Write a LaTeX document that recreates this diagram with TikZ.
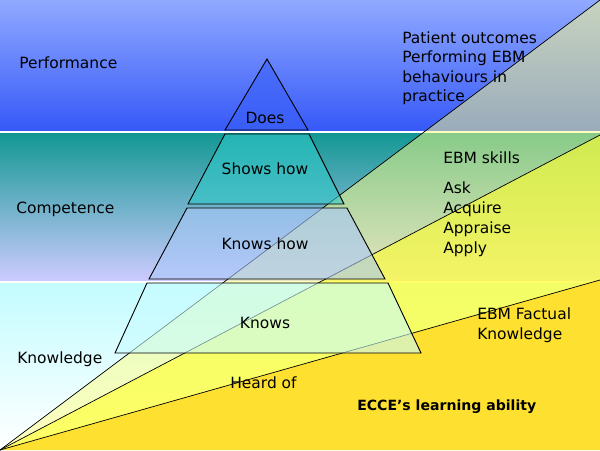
\documentclass[tikz,border=0pt]{standalone}
\usepackage{fontspec}
\setmainfont{DejaVu Sans}
\definecolor{perftop}{HTML}{90A9FF}
\definecolor{perfbot}{HTML}{3659F8}
\definecolor{comptop}{HTML}{139894}
\definecolor{compbot}{HTML}{CDCBFF}
\definecolor{knowtop}{HTML}{C4FCFF}
\definecolor{wedgea}{HTML}{FFFF80}
\definecolor{wedgeb}{HTML}{FFFF40}
\definecolor{wedgec}{HTML}{FDE030}
\definecolor{doesfill}{HTML}{3A60F8}
\definecolor{showsfill}{HTML}{30C8C8}
\definecolor{knowshowfill}{HTML}{A8C8F8}
\definecolor{knowsfill}{HTML}{C8FCFF}
\begin{document}
\begin{tikzpicture}[x=0.025cm,y=-0.025cm,
    lbl/.style={anchor=base west, inner sep=0pt, font=\fontsize{11}{13}\selectfont},
    lvl/.style={anchor=base, inner sep=0pt, font=\fontsize{11}{13}\selectfont},
    tier/.style={draw=black, line width=0.65pt, fill opacity=0.6},
    fan/.style={draw=black, line width=0.5pt}]
    \useasboundingbox (0,0) rectangle (600,450);

    % bands
    \shade[top color=perftop, bottom color=perfbot] (0,0) rectangle (600,130.5);
    \fill[white] (0,130.5) rectangle (600,133.5);
    \shade[top color=comptop, bottom color=compbot] (0,133.5) rectangle (600,280.5);
    \fill[white] (0,280.5) rectangle (600,283.5);
    \shade[top color=knowtop, bottom color=white] (0,283.5) rectangle (600,450);

    % fan from the corner
    \coordinate (o) at (0,450);
    \coordinate (e1) at (600,0);
    \coordinate (e2) at (600,135);
    \coordinate (e3) at (600,280);
    \coordinate (e4) at (600,450);
    \fill[wedgea, fill opacity=0.5] (o) -- (e1) -- (e2) -- cycle;
    \fill[wedgeb, fill opacity=0.8] (o) -- (e2) -- (e3) -- cycle;
    \fill[wedgec] (o) -- (e3) -- (e4) -- cycle;
    \draw[fan] (o) -- (e1);
    \draw[fan] (o) -- (e2);
    \draw[fan] (o) -- (e3);

    % pyramid
    \filldraw[tier, fill=doesfill] (267,59) -- (308,130) -- (225,130) -- cycle;
    \filldraw[tier, fill=showsfill] (225,134) -- (309,134) -- (344,204) -- (188,204) -- cycle;
    \filldraw[tier, fill=knowshowfill] (187,208) -- (347,208) -- (385,279) -- (149,279) -- cycle;
    \filldraw[tier, fill=knowsfill] (147,283) -- (388,283) -- (421,353) -- (115,353) -- cycle;

    \node at (265,123) [lvl] (does) {Does};
    \node at (265,174) [lvl] (shows) {Shows how};
    \node at (265,249) [lvl] (knowshow) {Knows how};
    \node at (265,328) [lvl] (knows) {Knows};
    \node at (230,388) [lbl] (heard) {Heard of};

    % left side
    \node at (19,68) [lbl] (perf) {Performance};
    \node at (16,213) [lbl] (comp) {Competence};
    \node at (17,363) [lbl] (know) {Knowledge};

    % right side
    \node at (402,43) [lbl] (pat1) {Patient outcomes};
    \node at (402,62.5) [lbl] (pat2) {Performing EBM};
    \node at (402,82) [lbl] (pat3) {behaviours in};
    \node at (402,101) [lbl] (pat4) {practice};
    \node at (443,163) [lbl] (skills) {EBM skills};
    \foreach \w/\y in {Ask/193, Acquire/213, Appraise/233, Apply/253}
        \node at (443,\y) [lbl] (skill-\w) {\w};
    \node at (477,319) [lbl] (fact1) {EBM Factual};
    \node at (477,339) [lbl] (fact2) {Knowledge};
    \node at (357,410) [lbl, font=\fontsize{10}{12}\selectfont\bfseries] (ecce) {ECCE’s learning ability};
\end{tikzpicture}
\end{document}
